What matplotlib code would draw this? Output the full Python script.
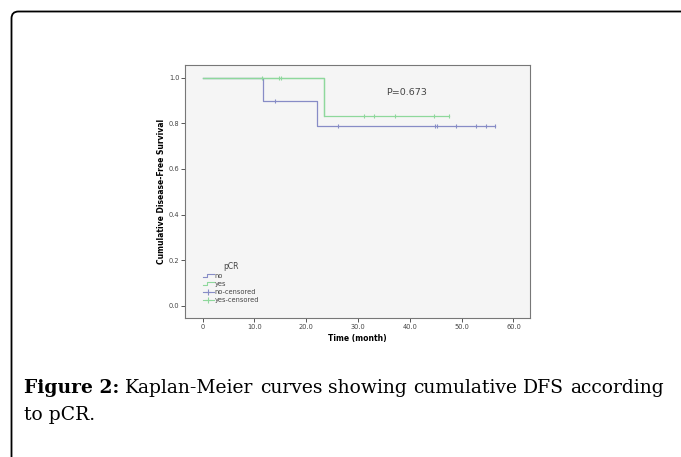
import numpy as np
import matplotlib
matplotlib.use("Agg")
from matplotlib import pyplot as plt
from matplotlib import patches, transforms
from matplotlib.lines import Line2D
from matplotlib.legend_handler import HandlerBase

# Kaplan-Meier step data
no_t = [0, 11.7, 22.1, 56.5]
no_s = [1.0, 0.9, 0.7875, 0.7875]
no_cens = [14.0, 26.2, 44.9, 45.2, 48.9, 52.7, 54.6, 56.5]

yes_t = [0, 23.5, 47.5]
yes_s = [1.0, 0.8333, 0.8333]
yes_cens = [11.45, 14.8, 15.1, 31.2, 33.0, 37.2, 44.7, 47.5]

x_ticks = [0, 10, 20, 30, 40, 50, 60]
x_labels = ["0", "10.0", "20.0", "30.0", "40.0", "50.0", "60.0"]
y_ticks = [0.0, 0.2, 0.4, 0.6, 0.8, 1.0]
y_labels = ["0.0", "0.2", "0.4", "0.6", "0.8", "1.0"]

p_text = "P=0.673"
caption_words = ["Kaplan-Meier", "curves", "showing", "cumulative", "DFS", "according"]

c_no = "#878cc6"
c_yes = "#8ed89c"


def surv_at(ts, ss, x):
    i = np.searchsorted(ts, x, side="right") - 1
    return np.array(ss)[i]


class StepHandler(HandlerBase):
    def create_artists(self, legend, orig, xd, yd, w, h, fs, trans):
        l = Line2D([xd, xd + w * 0.4, xd + w * 0.4, xd + w],
                   [yd + h * 0.15, yd + h * 0.15, yd + h * 0.85, yd + h * 0.85],
                   color=orig.get_color(), lw=0.8, transform=trans)
        return [l]


def main():
    fig = plt.figure(figsize=(6.81, 4.57), dpi=100)

    # outer rounded frame of the figure box
    frame = patches.FancyBboxPatch((11.5, -40), 720, 457 - 11.5 + 40,
                                   boxstyle="round,pad=0,rounding_size=7",
                                   transform=transforms.IdentityTransform(),
                                   fc="none", ec="black", lw=1.3)
    fig.patches.append(frame)

    ax = fig.add_axes([0.2717, 0.3042, 0.5059, 0.5536])
    ax.set_facecolor("#f5f5f5")

    ax.step(yes_t, yes_s, where="post", color=c_yes, lw=0.9)
    ax.step(no_t, no_s, where="post", color=c_no, lw=0.9)
    ax.step(yes_t[:2], yes_s[:2], where="post", color=c_yes, lw=0.9)

    ax.plot(no_cens, surv_at(no_t, no_s, no_cens), ls="none", marker="|",
            ms=3.5, mew=0.8, color=c_no)
    ax.plot(yes_cens, surv_at(yes_t, yes_s, yes_cens), ls="none", marker="|",
            ms=3.5, mew=0.8, color=c_yes)

    ax.text(39.4, 0.936, p_text, fontsize=6.8, color="#444444",
            ha="center", va="center")

    ax.set_xlim(-3.4, 63.1)
    ax.set_ylim(-0.054, 1.056)
    ax.set_xticks(x_ticks)
    ax.set_xticklabels(x_labels)
    ax.set_yticks(y_ticks)
    ax.set_yticklabels(y_labels)
    ax.tick_params(labelsize=4.8, length=3, width=0.7, colors="#555555",
                   labelcolor="#444444")
    ax.tick_params(axis="y", pad=0.8)
    ax.tick_params(axis="x", pad=1.5)
    for sp in ax.spines.values():
        sp.set_color("#777777")
        sp.set_linewidth(0.8)

    ax.set_xlabel("Time (month)", fontsize=5.5, fontweight="bold", labelpad=3)
    ax.set_ylabel("Cumulative Disease-Free Survival", fontsize=5.5,
                  fontweight="bold", labelpad=2)

    h_no = Line2D([], [], color=c_no)
    h_yes = Line2D([], [], color=c_yes)
    h_nc = Line2D([], [], color=c_no, marker="+", ls="-", lw=0.8, ms=5, mew=0.8)
    h_yc = Line2D([], [], color=c_yes, marker="+", ls="-", lw=0.8, ms=5, mew=0.8)
    leg = ax.legend([h_no, h_yes, h_nc, h_yc],
                    ["no", "yes", "no-censored", "yes-censored"],
                    title="pCR", loc="lower left", bbox_to_anchor=(0.035, 0.035),
                    frameon=False, fontsize=4.8, title_fontsize=5.5,
                    handlelength=1.6, handletextpad=0.15, labelspacing=0.3,
                    handler_map={h_no: StepHandler(), h_yes: StepHandler()})
    leg.get_title().set_color("#444444")
    for t in leg.get_texts():
        t.set_color("#444444")

    # caption, first line justified between x=24 and x=664 px
    fs = 13.5
    fam = "DejaVu Serif"
    y1 = 1 - 388 / 457
    r = fig.canvas.get_renderer()
    head = fig.text(24 / 681, y1, "Figure 2:", fontsize=fs, fontweight="bold",
                    family=fam, va="center")
    widths = []
    tmp = []
    for w in caption_words:
        t = fig.text(0, y1, w, fontsize=fs, family=fam, va="center")
        widths.append(t.get_window_extent(r).width)
        tmp.append(t)
    hw = head.get_window_extent(r).width
    gap = (664 - 24 - hw - sum(widths)) / len(caption_words)
    x = 24 + hw + gap
    for t, wd in zip(tmp, widths):
        t.set_x(x / 681)
        x += wd + gap
    fig.text(24 / 681, 1 - 415 / 457, "to pCR.", fontsize=fs, family=fam,
             va="center")

    fig.savefig("out.png", dpi=100)


if __name__ == "__main__":
    main()
